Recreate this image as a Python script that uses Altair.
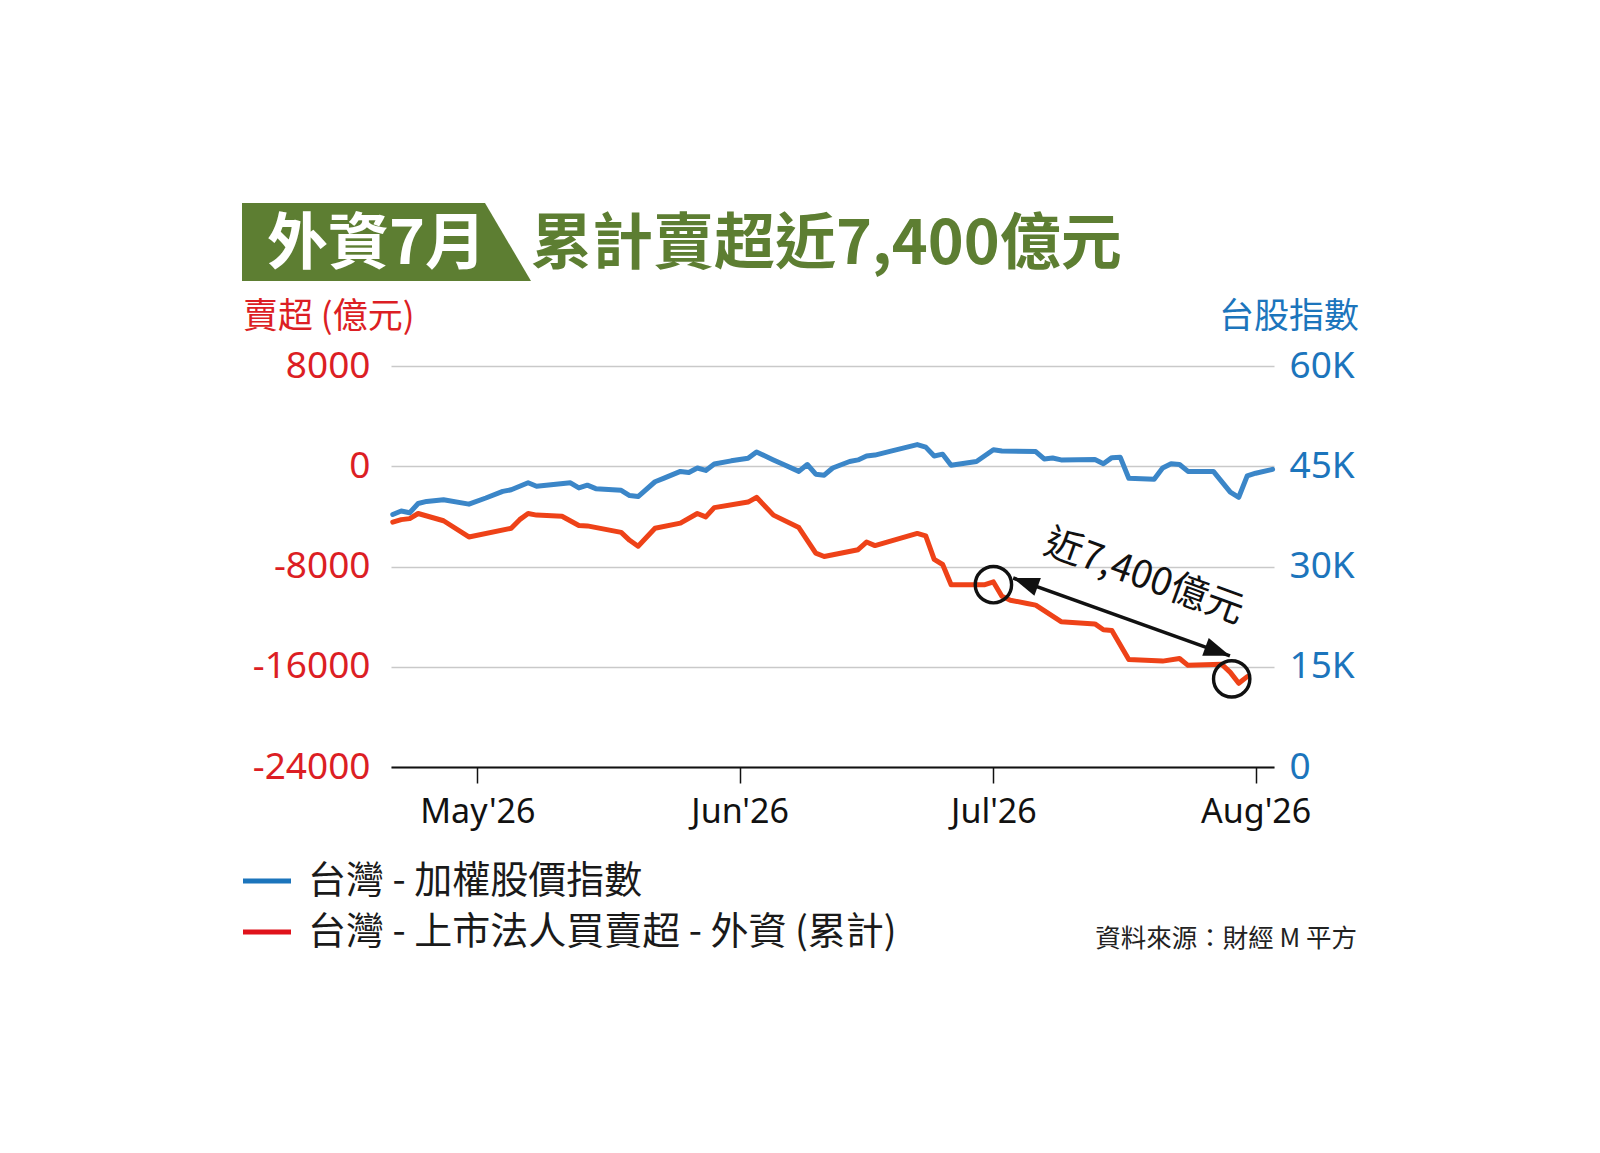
import altair as alt
import pandas as pd

# ---------------- data ----------------
blue_dates = [
    "2026-04-21", "2026-04-22", "2026-04-23", "2026-04-24", "2026-04-25", "2026-04-27",
    "2026-04-30", "2026-05-02", "2026-05-04", "2026-05-05", "2026-05-07", "2026-05-08",
    "2026-05-10", "2026-05-12", "2026-05-13", "2026-05-14", "2026-05-15", "2026-05-18",
    "2026-05-19", "2026-05-20", "2026-05-22", "2026-05-23", "2026-05-25", "2026-05-26",
    "2026-05-27", "2026-05-28", "2026-05-29", "2026-05-31", "2026-06-02", "2026-06-03",
    "2026-06-05", "2026-06-06", "2026-06-08", "2026-06-09", "2026-06-10", "2026-06-11",
    "2026-06-12", "2026-06-14", "2026-06-15", "2026-06-16", "2026-06-17", "2026-06-19",
    "2026-06-22", "2026-06-23", "2026-06-24", "2026-06-25", "2026-06-26", "2026-06-29",
    "2026-07-01", "2026-07-02", "2026-07-06", "2026-07-07", "2026-07-08", "2026-07-09",
    "2026-07-13", "2026-07-14", "2026-07-15", "2026-07-16", "2026-07-17", "2026-07-20",
    "2026-07-21", "2026-07-22", "2026-07-23", "2026-07-24", "2026-07-27", "2026-07-29",
    "2026-07-30", "2026-07-31", "2026-08-01", "2026-08-03",
]
blue_values = [
    37780, 38300, 38040, 39430, 39740, 40000,
    39330, 40250, 41240, 41490, 42530, 42010,
    42260, 42530, 41750, 42170, 41650, 41400,
    40620, 40470, 42680, 43190, 44230, 44070,
    44740, 44380, 45330, 45810, 46190, 47140,
    45950, 45380, 44230, 45260, 43810, 43660,
    44740, 45710, 45950, 46530, 46670, 47290,
    48240, 47860, 46530, 46810, 45140, 45710,
    47470, 47290, 47190, 46100, 46240, 45950,
    46000, 45380, 46290, 46330, 43200, 43040,
    44740, 45380, 45260, 44230, 44230, 41130,
    40360, 43560, 43960, 44540,
]

red_dates = [
    "2026-04-21", "2026-04-22", "2026-04-23", "2026-04-24", "2026-04-27", "2026-04-30",
    "2026-05-05", "2026-05-06", "2026-05-07", "2026-05-08", "2026-05-11", "2026-05-13",
    "2026-05-14", "2026-05-18", "2026-05-19", "2026-05-20", "2026-05-22", "2026-05-25",
    "2026-05-27", "2026-05-28", "2026-05-29", "2026-06-02", "2026-06-03", "2026-06-05",
    "2026-06-08", "2026-06-10", "2026-06-11", "2026-06-15", "2026-06-16", "2026-06-17",
    "2026-06-22", "2026-06-23", "2026-06-24", "2026-06-25", "2026-06-26", "2026-06-30",
    "2026-07-01", "2026-07-02", "2026-07-03", "2026-07-05", "2026-07-06", "2026-07-09",
    "2026-07-13", "2026-07-14", "2026-07-15", "2026-07-17", "2026-07-21", "2026-07-23",
    "2026-07-24", "2026-07-28", "2026-07-29", "2026-07-30", "2026-07-31",
]
red_values = [
    -4455, -4260, -4180, -3770, -4350, -5640,
    -4950, -4260, -3770, -3900, -3990, -4730,
    -4760, -5280, -5910, -6380, -4950, -4540,
    -3770, -4040, -3300, -2860, -2480, -3900,
    -4890, -6930, -7200, -6660, -6050, -6330,
    -5360, -5550, -7430, -7840, -9450, -9450,
    -9230, -10370, -10690, -10950, -11080, -12400,
    -12580, -13050, -13100, -15420, -15550, -15340,
    -15890, -15810, -16450, -17320, -16790,
]

x_tick_months = [5, 6, 7, 8]
left_ticks = [-24000, -16000, -8000, 0, 8000]
right_ticks = [0, 15000, 30000, 45000, 60000]

# annotation anchors (data coordinates)
circle_dates = ["2026-07-01T00:00:00", "2026-07-29T04:00:00"]
circle_values = [-9450, -16970]
arrow_dates = ["2026-07-03T08:00:00", "2026-07-28T23:00:00"]
arrow_values = [-8919, -15128]
note_dates = ["2026-07-18T19:00:00"]
note_values = [-8895]
note_text = "近7,400億元"

title_box_text = "外資7月"
title_text = "累計賣超近7,400億元"
left_title = "賣超 (億元)"
right_title = "台股指數"
legend_labels = ["台灣 - 加權股價指數", "台灣 - 上市法人買賣超 - 外資 (累計)"]
source_text = "資料來源：財經 M 平方"

# ---------------- styles ----------------
GREEN = "#5D7E32"
RED_TXT = "#DC1E24"
BLUE_TXT = "#1C75BC"
RED_LINE = "#EE4218"
BLUE_LINE = "#3B86C8"
CJK = "Noto Sans CJK TC"
LAT = "Noto Sans"
W, H = 883, 401

blue_df = pd.DataFrame({"date": pd.to_datetime(blue_dates), "value": blue_values})
red_df = pd.DataFrame({"date": pd.to_datetime(red_dates), "value": red_values})
circ_df = pd.DataFrame({"date": pd.to_datetime(circle_dates), "value": circle_values})
arrow_df = pd.DataFrame({
    "date": pd.to_datetime([arrow_dates[0]]), "value": [arrow_values[0]],
    "date2": pd.to_datetime([arrow_dates[1]]), "value2": [arrow_values[1]],
})
head1_df = pd.DataFrame({"date": pd.to_datetime([arrow_dates[0]]), "value": [arrow_values[0]]})
head2_df = pd.DataFrame({"date": pd.to_datetime([arrow_dates[1]]), "value": [arrow_values[1]]})
note_df = pd.DataFrame({"date": pd.to_datetime(note_dates), "value": note_values})
one = pd.DataFrame({"k": [0]})

x_domain = [alt.DateTime(year=2026, month=4, date=20, hours=19),
            alt.DateTime(year=2026, month=8, date=3, hours=4)]

x_enc = alt.X(
    "date:T",
    title=None,
    scale=alt.Scale(domain=x_domain),
    axis=alt.Axis(
        values=[alt.DateTime(year=2026, month=m, date=1) for m in x_tick_months],
        format="%b'%y", labelFont=LAT, labelFontSize=34, labelColor="#111111",
        tickColor="#111111", tickSize=16, tickWidth=1.5, domainColor="#111111",
        domainWidth=2.2, labelPadding=12, grid=False, labelFlush=False,
    ),
)

y_left = alt.Y(
    "value:Q",
    title=None,
    scale=alt.Scale(domain=[-24000, 8000], nice=False, zero=False),
    axis=alt.Axis(
        orient="left", values=left_ticks, labelExpr="datum.value + ''",
        labelFont=LAT, labelFontSize=37, labelColor=RED_TXT, labelPadding=21,
        ticks=False, tickSize=0, domain=False, grid=True, gridColor="#C9C9C9",
        gridWidth=1.5, labelFlush=False,
    ),
)

y_right = alt.Y(
    "value:Q",
    title=None,
    scale=alt.Scale(domain=[0, 60000], nice=False),
    axis=alt.Axis(
        orient="right", values=right_ticks,
        labelExpr="datum.value == 0 ? '0' : (datum.value / 1000) + 'K'",
        labelFont=LAT, labelFontSize=37, labelColor=BLUE_TXT, labelPadding=15,
        ticks=False, tickSize=0, domain=False, grid=False, labelFlush=False,
    ),
)

red_line = alt.Chart(red_df).mark_line(
    color=RED_LINE, strokeWidth=5, strokeJoin="round", strokeCap="round"
).encode(x=x_enc, y=y_left)

blue_line = alt.Chart(blue_df).mark_line(
    color=BLUE_LINE, strokeWidth=5, strokeJoin="round", strokeCap="round"
).encode(x=x_enc, y=y_right)

circles = alt.Chart(circ_df).mark_point(
    shape="circle", filled=False, size=1320, stroke="#111111", strokeWidth=3.4, opacity=1
).encode(x=x_enc, y=y_left)

arrow_line = alt.Chart(arrow_df).mark_rule(color="#111111", strokeWidth=3.6).encode(
    x=x_enc, y=y_left, x2="date2:T", y2="value2:Q"
)

HEAD = "M0,0L0.8,2.2L-0.8,2.2Z"
head1 = alt.Chart(head1_df).mark_point(
    shape=HEAD, filled=True, size=560, angle=290, color="#111111", opacity=1
).encode(x=x_enc, y=y_left)
head2 = alt.Chart(head2_df).mark_point(
    shape=HEAD, filled=True, size=560, angle=110, color="#111111", opacity=1
).encode(x=x_enc, y=y_left)

note = alt.Chart(note_df).mark_text(
    text=note_text, font=CJK, fontSize=38, angle=20, color="#111111",
    align="center", baseline="middle"
).encode(x=x_enc, y=y_left)

# ---------------- decorations (title, axis titles, legend, source) ----------------
def txt(t, x, y, size, color, align="left", weight="normal", font=CJK):
    return alt.Chart(one).mark_text(
        text=t, font=font, fontSize=size, color=color, align=align,
        baseline="middle", fontWeight=weight
    ).encode(x=alt.value(x), y=alt.value(y))

title_box = alt.Chart(one).mark_point(
    shape="M0,0L243,0L289,78L0,78Z", filled=True, size=4, color=GREEN, opacity=1
).encode(x=alt.value(-149), y=alt.value(-163))

decor = [
    title_box,
    txt(title_box_text, -124, -120, 61, "#FFFFFF", weight="bold"),
    txt(title_text, 140, -120, 61, GREEN, weight="bold"),
    txt(left_title, -148, -49, 35, RED_TXT),
    txt(right_title, 968, -49, 35, BLUE_TXT, align="right"),
    alt.Chart(one).mark_rule(color=BLUE_TXT, strokeWidth=5).encode(
        x=alt.value(-148), x2=alt.value(-100), y=alt.value(515)),
    txt(legend_labels[0], -83, 516, 38, "#1A1A1A"),
    alt.Chart(one).mark_rule(color="#E0121B", strokeWidth=5).encode(
        x=alt.value(-148), x2=alt.value(-100), y=alt.value(566)),
    txt(legend_labels[1], -83, 567, 38, "#1A1A1A"),
    txt(source_text, 966, 573, 25.5, "#222222", align="right"),
]

red_group = alt.layer(red_line, circles, arrow_line, head1, head2, note, *decor)

chart = alt.layer(red_group, blue_line).resolve_scale(y="independent").properties(
    width=W, height=H,
    autosize=alt.AutoSizeParams(type="none"),
    padding={"left": 383, "top": 358, "right": 318, "bottom": 378},
    background="white",
).configure_view(stroke="transparent")

chart.save("out.html", embed_options={"renderer": "svg", "actions": False})
